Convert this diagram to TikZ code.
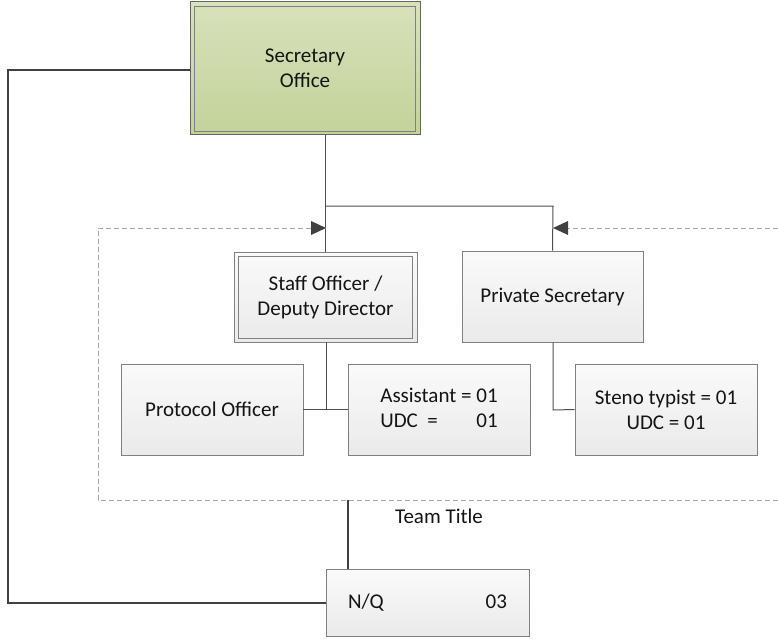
\documentclass[tikz,border=0pt]{standalone}
\usepackage{fontspec}
\setmainfont{Carlito}
\usetikzlibrary{arrows.meta}
\definecolor{boxline}{RGB}{128,128,128}
\definecolor{conn}{RGB}{80,80,80}
\definecolor{thickconn}{RGB}{64,64,64}
\definecolor{dashc}{RGB}{166,166,166}
\definecolor{greentop}{RGB}{216,225,188}
\definecolor{greenbot}{RGB}{195,210,154}
\definecolor{greenline}{RGB}{100,104,92}
\definecolor{graytop}{RGB}{250,250,250}
\definecolor{graybot}{RGB}{234,234,234}
\definecolor{txt}{RGB}{20,20,20}
\begin{document}
\begin{tikzpicture}[x=1pt,y=-1pt,
  every node/.style={font=\fontsize{21}{25}\selectfont, text=txt, align=center, inner sep=0pt},
  unitbox/.style={draw=boxline, line width=0.9pt, top color=graytop, bottom color=graybot, minimum width=182pt, minimum height=91pt},
  secbox/.style={draw=greenline, line width=1pt, top color=greentop, bottom color=greenbot, minimum width=230pt, minimum height=133pt},
  link/.style={draw=conn, line width=1pt},
  thicklink/.style={draw=thickconn, line width=2pt},
  dashlink/.style={draw=dashc, line width=1pt, dash pattern=on 5pt off 3pt}
]
\useasboundingbox (0,0) rectangle (778,639);

% nodes
\node[secbox] (sec) at (305,68.5) {Secretary\\Office};
\draw[draw=boxline, line width=0.8pt] ([shift={(5,4.5)}]sec.north west) rectangle ([shift={(-5,-4.5)}]sec.south east);

\node[unitbox, minimum width=183pt, minimum height=90pt] (staff) at (325.5,297) {Staff Officer /\\Deputy Director};
\draw[draw=boxline, line width=0.8pt] ([shift={(5,4.5)}]staff.north west) rectangle ([shift={(-5,-4.5)}]staff.south east);

\node[unitbox, minimum width=181pt] (ps) at (552.5,296.5) {Private Secretary};

\node[unitbox] (proto) at (212,409.5) {Protocol Officer};
\node[unitbox] (asst) at (439,409.5) {\begin{tabular}{@{}l@{}r@{}}Assistant =\ \mbox{}&01\\UDC\ \ =&01\end{tabular}};
\node[unitbox] (steno) at (666,409.5) {Steno typist = 01\\UDC = 01};

\node[unitbox, minimum width=203pt, minimum height=67pt] (nq) at (427.5,602.5) {\makebox[159pt]{N/Q\hfill 03}};

\node (team) at (439,516) {Team Title};

% coordinates
\coordinate (split) at (326,206);
\coordinate (psturn) at (553,206);
\coordinate (staffbus) at (326,410);
\coordinate (psbus) at (553,410);
\coordinate (loopTop) at (8,70);
\coordinate (loopBot) at (8,603);
\coordinate (dTL) at (98,228);
\coordinate (dBL) at (98,500);
\coordinate (dBR) at (778,500);
\coordinate (dTR) at (778,228);
\coordinate (tipL) at (326,228);
\coordinate (tipR) at (553,228);
\coordinate (nqTop) at (348,500);

% connectors
\draw[link] (sec.south -| staff.north) -- (staff.north);
\draw[link] (split) -- (psturn) -- (ps.north);
\draw[link] (staff.south -| staffbus) -- (staffbus);
\draw[link] (proto.east) -- (asst.west);
\draw[link] (ps.south -| psbus) -- (psbus) -- (steno.west);
\draw[thicklink] (sec.west |- loopTop) -- (loopTop) -- (loopBot) -- (nq.west |- loopBot);
\draw[thicklink] (nq.north -| nqTop) -- (nqTop);

% dashed team frame
\draw[dashlink] (dBR) -- (dBL) -- (dTL) -- (tipL);
\draw[dashlink] (dTR) -- (tipR);
\fill[thickconn] (tipL) -- ++(-15,-7) -- ++(0,14) -- cycle;
\fill[thickconn] (tipR) -- ++(15,-7) -- ++(0,14) -- cycle;
\end{tikzpicture}
\end{document}
